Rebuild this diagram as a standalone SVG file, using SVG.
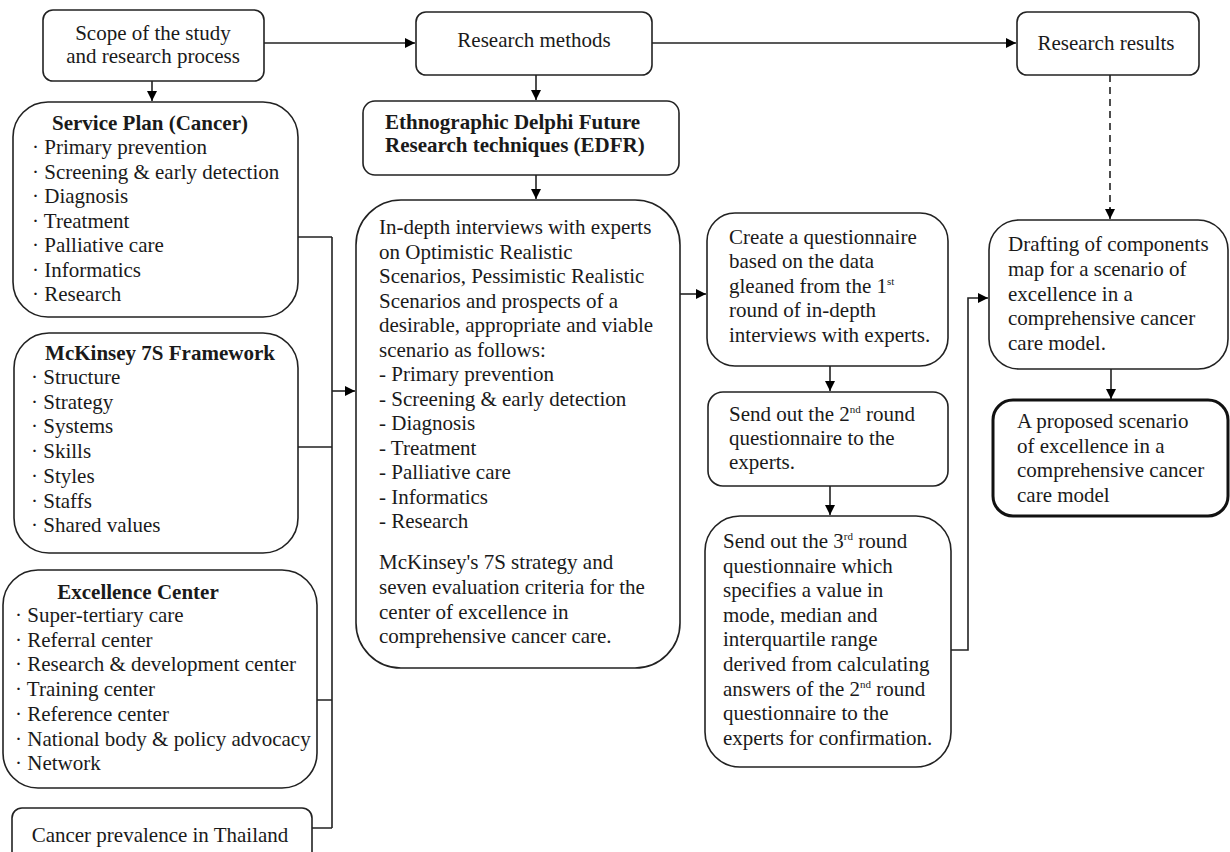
<svg xmlns="http://www.w3.org/2000/svg" width="1230" height="852" viewBox="0 0 1230 852">
<defs>
<marker id="ah" markerUnits="userSpaceOnUse" markerWidth="11" markerHeight="11" refX="10" refY="5" orient="auto">
<path d="M0,0 L10,5 L0,10 z" fill="#000"/>
</marker>
<style>
.box{fill:#fff;stroke:#222;stroke-width:1.6}
.thick{fill:#fff;stroke:#111;stroke-width:3}
.t{font-family:"Liberation Serif","Times New Roman",serif;font-size:21px;fill:#1a1a1a}
.b{font-weight:bold}
.c{text-anchor:middle}
.ln{fill:none;stroke:#222;stroke-width:1.6}
.dash{fill:none;stroke:#222;stroke-width:1.6;stroke-dasharray:7,5}
.sup{font-size:11px}
</style>
</defs>
<rect width="1230" height="852" fill="#fff"/>

<g id="connectors">
<path class="ln" d="M264,43 H415" marker-end="url(#ah)"/>
<path class="ln" d="M652,43 H1016" marker-end="url(#ah)"/>
<path class="ln" d="M152,81 V101" marker-end="url(#ah)"/>
<path class="ln" d="M536,75 V100" marker-end="url(#ah)"/>
<path class="ln" d="M536,175 V199" marker-end="url(#ah)"/>
<path class="ln" d="M298,237 H332 M298,447 H332 M317,700 H332 M312,828 H332 M332,237 V828"/>
<path class="ln" d="M332,391 H355" marker-end="url(#ah)"/>
<path class="ln" d="M680,294 H706" marker-end="url(#ah)"/>
<path class="ln" d="M830,366 V391" marker-end="url(#ah)"/>
<path class="ln" d="M830,486 V515" marker-end="url(#ah)"/>
<path class="ln" d="M951,650 H968 V298 H988" marker-end="url(#ah)"/>
<path class="dash" d="M1110,75 V210"/>
<path class="ln" d="M1110,208 V219" marker-end="url(#ah)"/>
<path class="ln" d="M1111,369 V399" marker-end="url(#ah)"/>
</g>

<g id="scope">
<rect class="box" x="43" y="10" width="221" height="71" rx="10"/>
<text class="t c" x="153" y="40">Scope of the study</text>
<text class="t c" x="153" y="63">and research process</text>
</g>

<g id="research-methods">
<rect class="box" x="416" y="12" width="236" height="63" rx="10"/>
<text class="t c" x="534" y="47">Research methods</text>
</g>

<g id="research-results">
<rect class="box" x="1017" y="12" width="182" height="63" rx="10"/>
<text class="t c" x="1106" y="50">Research results</text>
</g>

<g id="service-plan">
<rect class="box" x="13" y="102" width="285" height="215" rx="35"/>
<text class="t b c" x="150" y="130">Service Plan (Cancer)</text>
<text class="t" x="32" y="154">· Primary prevention</text>
<text class="t" x="32" y="178.5">· Screening  &amp; early detection</text>
<text class="t" x="32" y="203">· Diagnosis</text>
<text class="t" x="32" y="227.5">· Treatment</text>
<text class="t" x="32" y="252">· Palliative  care</text>
<text class="t" x="32" y="276.5">· Informatics</text>
<text class="t" x="32" y="301">· Research</text>
</g>

<g id="mckinsey">
<rect class="box" x="14" y="333" width="284" height="220" rx="35"/>
<text class="t b c" x="160" y="360">McKinsey 7S Framework</text>
<text class="t" x="31" y="384">· Structure</text>
<text class="t" x="31" y="408.7">· Strategy</text>
<text class="t" x="31" y="433.4">· Systems</text>
<text class="t" x="31" y="458.1">· Skills</text>
<text class="t" x="31" y="482.8">· Styles</text>
<text class="t" x="31" y="507.5">· Staffs</text>
<text class="t" x="31" y="532.2">· Shared  values</text>
</g>

<g id="excellence">
<rect class="box" x="3" y="570" width="314" height="218" rx="35"/>
<text class="t b c" x="138" y="599">Excellence Center</text>
<text class="t" x="15" y="622">· Super-tertiary care</text>
<text class="t" x="15" y="646.7">· Referral  center</text>
<text class="t" x="15" y="671.4">· Research &amp; development center</text>
<text class="t" x="15" y="696.1">· Training  center</text>
<text class="t" x="15" y="720.8">· Reference  center</text>
<text class="t" x="15" y="745.5">· National body &amp; policy advocacy</text>
<text class="t" x="15" y="770.2">· Network</text>
</g>

<g id="cancer-prevalence">
<rect class="box" x="12" y="808" width="300" height="70" rx="10"/>
<text class="t c" x="160" y="842">Cancer prevalence in Thailand</text>
</g>

<g id="edfr">
<rect class="box" x="363" y="101" width="316" height="74" rx="12"/>
<text class="t b" x="385" y="129">Ethnographic Delphi Future</text>
<text class="t b" x="385" y="152">Research techniques (EDFR)</text>
</g>

<g id="in-depth">
<rect class="box" x="356" y="200" width="324" height="468" rx="45"/>
<text class="t" x="379" y="234">In-depth interviews with experts</text>
<text class="t" x="379" y="258.5">on Optimistic Realistic</text>
<text class="t" x="379" y="283">Scenarios,  Pessimistic Realistic</text>
<text class="t" x="379" y="307.5">Scenarios  and prospects of a</text>
<text class="t" x="379" y="332">desirable,  appropriate and viable</text>
<text class="t" x="379" y="356.5">scenario  as follows:</text>
<text class="t" x="379" y="381">- Primary prevention</text>
<text class="t" x="379" y="405.5">- Screening  &amp; early detection</text>
<text class="t" x="379" y="430">- Diagnosis</text>
<text class="t" x="379" y="454.5">- Treatment</text>
<text class="t" x="379" y="479">- Palliative  care</text>
<text class="t" x="379" y="503.5">- Informatics</text>
<text class="t" x="379" y="528">- Research</text>
<text class="t" x="379" y="569">McKinsey's 7S strategy and</text>
<text class="t" x="379" y="594">seven evaluation  criteria for the</text>
<text class="t" x="379" y="619">center of excellence  in</text>
<text class="t" x="379" y="643">comprehensive cancer care.</text>
</g>

<g id="create-questionnaire">
<rect class="box" x="707" y="213" width="241" height="153" rx="28"/>
<text class="t" x="729" y="244">Create a questionnaire</text>
<text class="t" x="729" y="268.4">based on the data</text>
<text class="t" x="729" y="292.8">gleaned  from the 1<tspan class="sup" dy="-8">st</tspan></text>
<text class="t" x="729" y="317.2">round of in-depth</text>
<text class="t" x="729" y="341.6">interviews with experts.</text>
</g>

<g id="send-second">
<rect class="box" x="708" y="392" width="240" height="94" rx="15"/>
<text class="t" x="729" y="421">Send out the 2<tspan class="sup" dy="-8">nd</tspan><tspan dy="8"> round</tspan></text>
<text class="t" x="729" y="445">questionnaire to the</text>
<text class="t" x="729" y="469">experts.</text>
</g>

<g id="send-third">
<rect class="box" x="705" y="516" width="246" height="251" rx="35"/>
<text class="t" x="723" y="548">Send out the 3<tspan class="sup" dy="-8">rd</tspan><tspan dy="8"> round</tspan></text>
<text class="t" x="723" y="572.6">questionnaire which</text>
<text class="t" x="723" y="597.2">specifies a value in</text>
<text class="t" x="723" y="621.8">mode, median and</text>
<text class="t" x="723" y="646.4">interquartile range</text>
<text class="t" x="723" y="671">derived from calculating</text>
<text class="t" x="723" y="695.6">answers of the 2<tspan class="sup" dy="-8">nd</tspan><tspan dy="8"> round</tspan></text>
<text class="t" x="723" y="720.2">questionnaire  to the</text>
<text class="t" x="723" y="744.8">experts for confirmation.</text>
</g>

<g id="drafting">
<rect class="box" x="989" y="220" width="239" height="149" rx="30"/>
<text class="t" x="1008" y="251">Drafting of components</text>
<text class="t" x="1008" y="275.8">map for a scenario of</text>
<text class="t" x="1008" y="300.6">excellence  in a</text>
<text class="t" x="1008" y="325.4">comprehensive cancer</text>
<text class="t" x="1008" y="350.2">care model.</text>
</g>

<g id="proposed">
<rect class="thick" x="993" y="400" width="235" height="116" rx="20"/>
<text class="t" x="1017" y="428">A proposed scenario</text>
<text class="t" x="1017" y="452.5">of excellence  in a</text>
<text class="t" x="1017" y="477">comprehensive cancer</text>
<text class="t" x="1017" y="501.5">care model</text>
</g>
</svg>
